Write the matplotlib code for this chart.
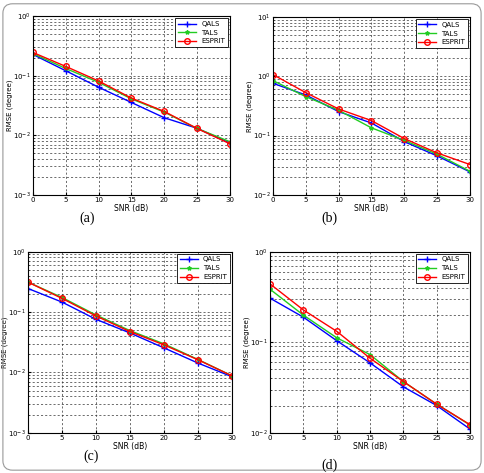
import numpy as np
import matplotlib
matplotlib.use('Agg')
import matplotlib.pyplot as plt
from matplotlib.patches import FancyBboxPatch
from matplotlib.ticker import LogLocator, NullFormatter

snr = [0, 5, 10, 15, 20, 25, 30]

# (a)
qals_a   = [0.227, 0.121, 0.064, 0.0355, 0.0197, 0.0131, 0.0074]
tals_a   = [0.235, 0.132, 0.0774, 0.0408, 0.0245, 0.0130, 0.0078]
esprit_a = [0.245, 0.143, 0.0815, 0.042, 0.0251, 0.0130, 0.0072]

# (b)
qals_b   = [0.762, 0.484, 0.254, 0.163, 0.079, 0.0454, 0.0244]
tals_b   = [0.845, 0.454, 0.267, 0.135, 0.083, 0.0484, 0.025]
esprit_b = [1.07, 0.53, 0.281, 0.179, 0.089, 0.051, 0.0325]

# (c)
qals_c   = [0.245, 0.146, 0.0757, 0.045, 0.0255, 0.0143, 0.0085]
tals_c   = [0.312, 0.174, 0.0893, 0.0492, 0.0297, 0.0164, 0.0088]
esprit_c = [0.312, 0.168, 0.086, 0.0474, 0.0286, 0.0162, 0.0088]

# (d)
qals_d   = [0.306, 0.189, 0.104, 0.0592, 0.0322, 0.020, 0.011]
tals_d   = [0.384, 0.199, 0.112, 0.073, 0.0368, 0.0207, 0.0122]
esprit_d = [0.44, 0.227, 0.132, 0.0666, 0.0368, 0.0207, 0.0123]

panels = [
    ('(a)', [0.068, 0.588, 0.407, 0.378], (1e-3, 1e0), qals_a, tals_a, esprit_a, (0.18, 0.539)),
    ('(b)', [0.564, 0.588, 0.407, 0.376], (1e-2, 1e1), qals_b, tals_b, esprit_b, (0.68, 0.539)),
    ('(c)', [0.058, 0.085, 0.421, 0.383], (1e-3, 1e0), qals_c, tals_c, esprit_c, (0.188, 0.036)),
    ('(d)', [0.558, 0.085, 0.413, 0.383], (1e-2, 1e0), qals_d, tals_d, esprit_d, (0.68, 0.017)),
]

fig = plt.figure(figsize=(4.84, 4.73), dpi=100)
fig.patch.set_facecolor('white')

border = FancyBboxPatch((0.006, 0.006), 0.988, 0.986, boxstyle='round,pad=0,rounding_size=0.02',
                        transform=fig.transFigure, fill=False, edgecolor='#999999', linewidth=0.8)
fig.patches.append(border)

for label, pos, ylim, q, t, e, lpos in panels:
    ax = fig.add_axes(pos)
    ax.set_yscale('log')
    ax.plot(snr, q, color='blue', marker='+', markersize=4, linewidth=1, label='QALS')
    ax.plot(snr, t, color='#22cc22', marker='*', markersize=3, linewidth=1, label='TALS')
    ax.plot(snr, e, color='red', marker='o', markersize=4, markerfacecolor='none',
            linewidth=1, label='ESPRIT')
    ax.set_xlim(0, 30)
    ax.set_ylim(*ylim)
    ax.set_xticks(snr)
    ax.yaxis.set_major_locator(LogLocator(base=10, numticks=10))
    ax.yaxis.set_minor_locator(LogLocator(base=10, subs=np.arange(2, 10), numticks=10))
    ax.yaxis.set_minor_formatter(NullFormatter())
    ax.grid(True, which='both', linestyle=(0, (3, 3)), color='#333333', linewidth=0.5)
    ax.tick_params(labelsize=5, length=2, direction='in', pad=1.5)
    ax.tick_params(which='minor', length=1, direction='in')
    ax.set_xlabel('SNR (dB)', fontsize=5.5, labelpad=1)
    ax.set_ylabel('RMSE (degree)', fontsize=5, labelpad=0)
    leg = ax.legend(loc='upper right', fontsize=5, fancybox=False, framealpha=1,
                    edgecolor='black', borderaxespad=0.3, handlelength=2.5, labelspacing=0.4)
    leg.get_frame().set_linewidth(0.6)
    fig.text(lpos[0], lpos[1], label, fontsize=10, family='Liberation Serif', ha='center', va='center')

fig.savefig('out.png', dpi=100)
